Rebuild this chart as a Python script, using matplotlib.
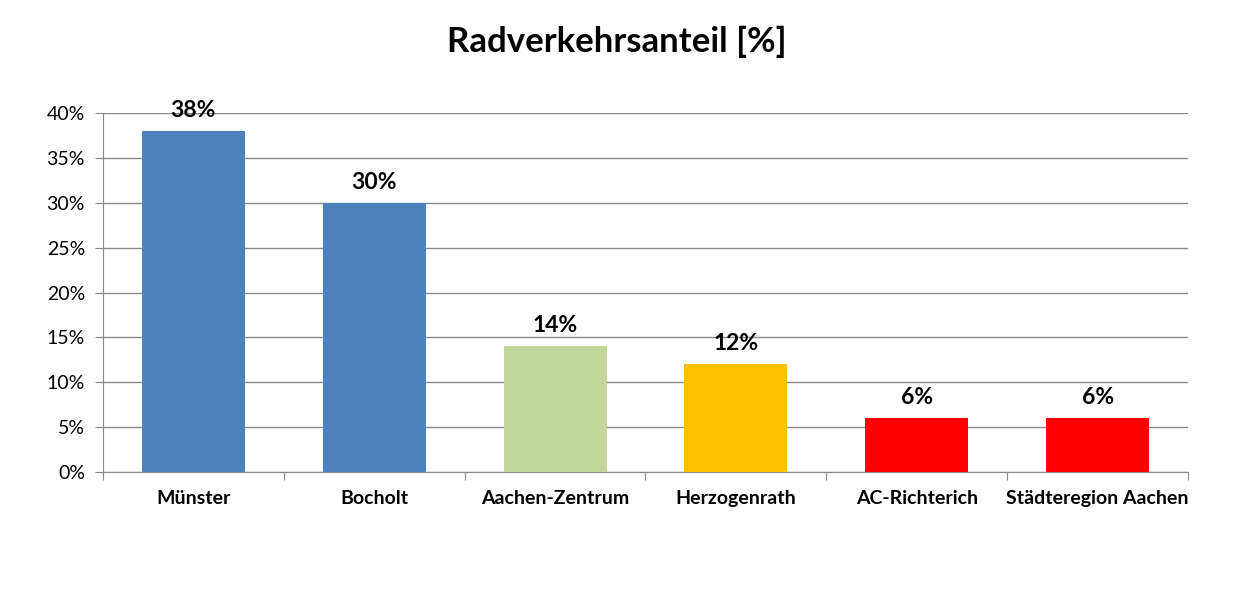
import matplotlib
matplotlib.use("Agg")
import matplotlib.pyplot as plt
import numpy as np

plt.rcParams['font.family'] = ['Lato', 'DejaVu Sans']

# data
categories = ["Münster", "Bocholt", "Aachen-Zentrum", "Herzogenrath", "AC-Richterich", "Städteregion Aachen"]
values = [38, 30, 14, 12, 6, 6]
colors = ["#4F81BD", "#4F81BD", "#C3D69B", "#FFC000", "#FF0000", "#FF0000"]
yticks = [0, 5, 10, 15, 20, 25, 30, 35, 40]

fig = plt.figure(figsize=(12.36, 5.98), dpi=100)
ax = fig.add_axes([103/1236, 126/598, 1085/1236, 359/598])

x = np.arange(len(categories))
ax.bar(x, values, width=0.57, color=colors, zorder=3)
for xi, v in zip(x, values):
    ax.text(xi, v + 1.1, f"{v}%", ha="center", va="bottom", fontsize=16.5, fontweight="bold")

ax.set_xlim(-0.5, len(categories) - 0.5)
ax.set_ylim(0, 40)
ax.set_yticks(yticks)
ax.set_yticklabels([f"{t}%" for t in yticks], fontsize=14)
ax.yaxis.grid(True, color="#888888", linewidth=1, zorder=0)

ax.set_xticks(np.arange(-0.5, len(categories), 1.0))
ax.set_xticklabels([])
ax.set_xticks(x, minor=True)
ax.set_xticklabels(categories, minor=True, fontsize=14, fontweight="bold")
ax.tick_params(axis="x", which="major", length=6, color="#888888", direction="out")
ax.tick_params(axis="x", which="minor", length=0, pad=13)
ax.tick_params(axis="y", length=6, color="#888888", pad=7)

for s in ["top", "right"]:
    ax.spines[s].set_visible(False)
for s in ["left", "bottom"]:
    ax.spines[s].set_color("#888888")

fig.text(617/1236, 1 - 42/598, "Radverkehrsanteil [%]", ha="center", va="center", fontsize=25, fontweight="bold")

fig.savefig("out.png", dpi=100)
